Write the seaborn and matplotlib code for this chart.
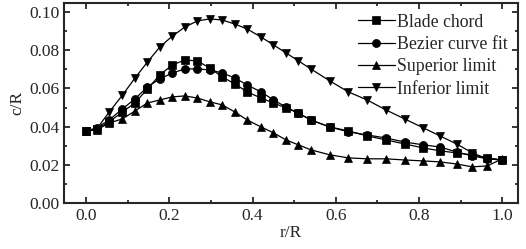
import numpy as np
import pandas as pd
import matplotlib
matplotlib.use("Agg")
import matplotlib.pyplot as plt
import seaborn as sns
from matplotlib.ticker import MultipleLocator

# r/R stations
r_R = [0, 0.025, 0.055, 0.087, 0.117, 0.147, 0.177, 0.207, 0.237, 0.267,
       0.297, 0.327, 0.357, 0.387, 0.42, 0.45, 0.48, 0.51, 0.54, 0.585,
       0.63, 0.675, 0.72, 0.765, 0.81, 0.85, 0.89, 0.928, 0.964, 1.0]

blade_chord = [0.0378, 0.0388, 0.0425, 0.0477, 0.0524, 0.0597, 0.0671, 0.0723, 0.0749, 0.0744,
               0.0707, 0.0660, 0.0624, 0.0582, 0.0550, 0.0524, 0.0498, 0.0471, 0.0435, 0.0399,
               0.0378, 0.0352, 0.0331, 0.0310, 0.0289, 0.0274, 0.0263, 0.0252, 0.0237, 0.0226]
bezier_fit = [0.0378, 0.0394, 0.0435, 0.0493, 0.0545, 0.0608, 0.0650, 0.0681, 0.0702, 0.0702,
              0.0697, 0.0681, 0.0655, 0.0618, 0.0582, 0.0540, 0.0503, 0.0471, 0.0435, 0.0399,
              0.0373, 0.0357, 0.0341, 0.0320, 0.0305, 0.0294, 0.0268, 0.0247, 0.0232, 0.0226]
superior = [0.0378, 0.0383, 0.0419, 0.0441, 0.0482, 0.0524, 0.0540, 0.0556, 0.0561, 0.0550,
            0.0530, 0.0514, 0.0477, 0.0435, 0.0399, 0.0368, 0.0331, 0.0305, 0.0279, 0.0253,
            0.0237, 0.0232, 0.0232, 0.0226, 0.0221, 0.0216, 0.0205, 0.0190, 0.0195, 0.0232]
inferior = [0.0378, 0.0388, 0.0476, 0.0565, 0.0654, 0.0738, 0.0817, 0.0874, 0.0921, 0.0953,
            0.0964, 0.0958, 0.0937, 0.0911, 0.0869, 0.0828, 0.0786, 0.0744, 0.0702, 0.0640,
            0.0582, 0.0540, 0.0488, 0.0441, 0.0394, 0.0352, 0.0310, 0.0263, 0.0232, 0.0226]

labels = ["Blade chord", "Bezier curve fit", "Superior limit", "Inferior limit"]
markers = ["s", "o", "^", "v"]

sns.set_style("ticks")
plt.rcParams['font.family'] = ['Liberation Serif', 'DejaVu Serif']

fig, ax = plt.subplots(figsize=(5.26, 2.49), dpi=100)
fig.subplots_adjust(left=0.122, right=0.985, top=0.988, bottom=0.184)

for vals, lab, m in zip([blade_chord, bezier_fit, superior, inferior], labels, markers):
    sns.lineplot(x=r_R, y=vals, ax=ax, color="black", marker=m, markersize=5.8,
                 markeredgecolor="black", markeredgewidth=0.5, linewidth=0.9, label=lab)

ax.set_xlim(-0.053, 1.038)
ax.set_ylim(0, 0.1047)
ax.xaxis.set_major_locator(MultipleLocator(0.2))
ax.xaxis.set_minor_locator(MultipleLocator(0.1))
ax.yaxis.set_major_locator(MultipleLocator(0.02))
ax.yaxis.set_minor_locator(MultipleLocator(0.01))
ax.xaxis.set_major_formatter(matplotlib.ticker.FormatStrFormatter('%.1f'))
ax.yaxis.set_major_formatter(matplotlib.ticker.FormatStrFormatter('%.2f'))

ax.tick_params(which="both", direction="in", top=True, right=True, width=1.3, labelsize=12.5)
ax.tick_params(which="major", length=4.5)
ax.tick_params(which="minor", length=2.5)
for s in ax.spines.values():
    s.set_linewidth(1.5)

ax.set_xlabel("r/R", fontsize=12.5, labelpad=1)
ax.set_ylabel("c/R", fontsize=12.5, labelpad=3)

ax.legend(loc="upper right", frameon=False, fontsize=12.8, handlelength=2.1,
          handletextpad=0.1, labelspacing=0.3, borderaxespad=0.1, borderpad=0.5)

plt.savefig("out.png", dpi=100)
